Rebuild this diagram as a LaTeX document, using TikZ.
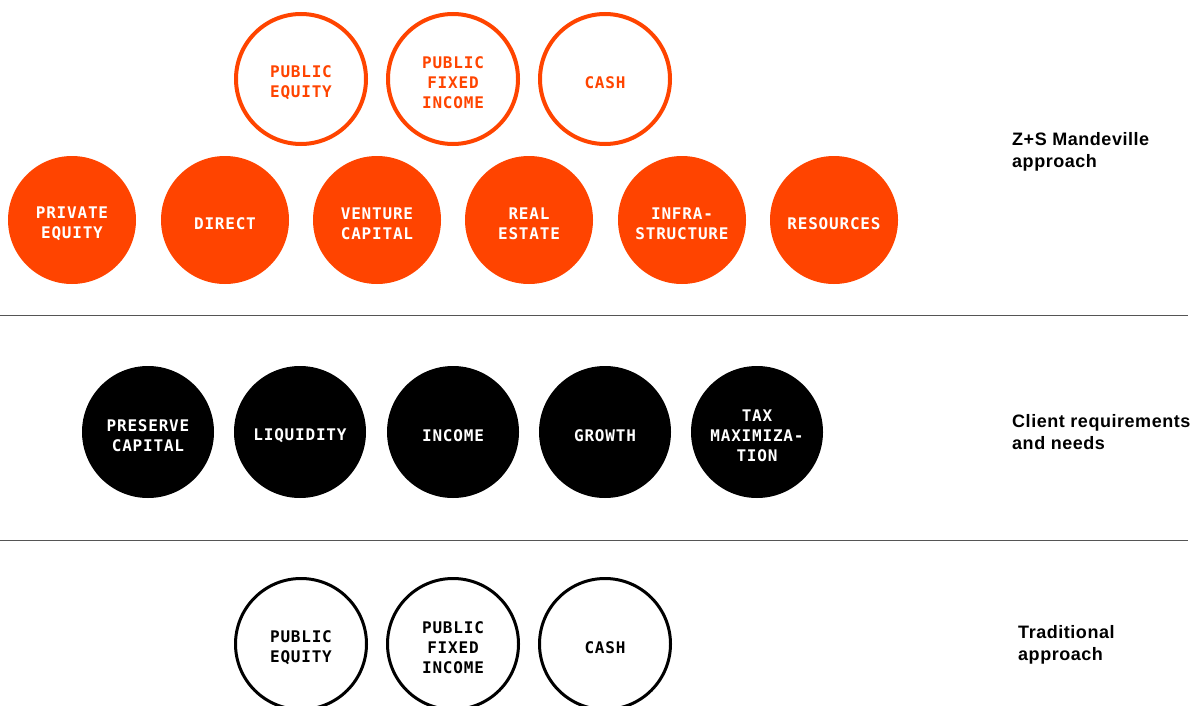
\documentclass[tikz,border=0pt]{standalone}
\usepackage{fontspec}
\newfontfamily\monofont[LetterSpace=5]{DejaVu Sans Mono}
\newfontfamily\labelfont[LetterSpace=3]{Liberation Sans}
\definecolor{zsorange}{HTML}{FF4400}
\definecolor{rulegrey}{HTML}{555555}
\begin{document}
\begin{tikzpicture}[x=1pt,y=-1pt,
  ctext/.style={align=center,font=\monofont\bfseries\fontsize{16}{20}\selectfont,inner sep=0pt},
  orangering/.style={circle,draw=zsorange,line width=4pt,minimum size=130pt},
  orangedisc/.style={circle,fill=zsorange,minimum size=128pt},
  blackdisc/.style={circle,fill=black,minimum size=132pt},
  blackring/.style={circle,draw=black,line width=3pt,minimum size=131pt},
  txt/.style 2 args={label={[ctext,text=#1,yshift=-3.5pt]center:{#2}}},
  rowlabel/.style={anchor=north west,align=left,inner sep=0pt,font=\labelfont\bfseries\fontsize{18}{22}\selectfont},
  divider/.style={draw=rulegrey,line width=1pt}]
\useasboundingbox (0,0) rectangle (1201,706);
% top outlined row
\node[orangering,txt={zsorange}{PUBLIC\\EQUITY}] (pe) at (301,79) {};
\node[orangering,txt={zsorange}{PUBLIC\\FIXED\\INCOME}] (pfi) at (453,79) {};
\node[orangering,txt={zsorange}{CASH}] (cash) at (605,79) {};
% filled orange row
\node[orangedisc,txt={white}{PRIVATE\\EQUITY}] (priv) at (72,220) {};
\node[orangedisc,txt={white}{DIRECT}] (dir) at (225,220) {};
\node[orangedisc,txt={white}{VENTURE\\CAPITAL}] (vc) at (377,220) {};
\node[orangedisc,txt={white}{REAL\\ESTATE}] (re) at (529,220) {};
\node[orangedisc,txt={white}{INFRA-\\STRUCTURE}] (inf) at (682,220) {};
\node[orangedisc,txt={white}{RESOURCES}] (res) at (834,220) {};
% black row
\node[blackdisc,txt={white}{PRESERVE\\CAPITAL}] (pc) at (148,432) {};
\node[blackdisc,txt={white}{LIQUIDITY}] (liq) at (300,432) {};
\node[blackdisc,txt={white}{INCOME}] (inc) at (453,432) {};
\node[blackdisc,txt={white}{GROWTH}] (gro) at (605,432) {};
\node[blackdisc,txt={white}{TAX\\MAXIMIZA-\\TION}] (tax) at (757,432) {};
% bottom outlined row
\node[blackring,txt={black}{PUBLIC\\EQUITY}] (tpe) at (301,644) {};
\node[blackring,txt={black}{PUBLIC\\FIXED\\INCOME}] (tpfi) at (453,644) {};
\node[blackring,txt={black}{CASH}] (tcash) at (605,644) {};
% dividers
\coordinate (d1a) at (0,315); \coordinate (d1b) at (1188,315);
\coordinate (d2a) at (0,540); \coordinate (d2b) at (1188,540);
\draw[divider] (d1a) -- (d1b);
\draw[divider] (d2a) -- (d2b);
% labels
\node[rowlabel] (l1) at (1012,132) {Z+S Mandeville\\approach};
\node[rowlabel] (l2) at (1012,414) {Client requirements\\and needs};
\node[rowlabel] (l3) at (1018,625) {Traditional\\approach};
\end{tikzpicture}
\end{document}
